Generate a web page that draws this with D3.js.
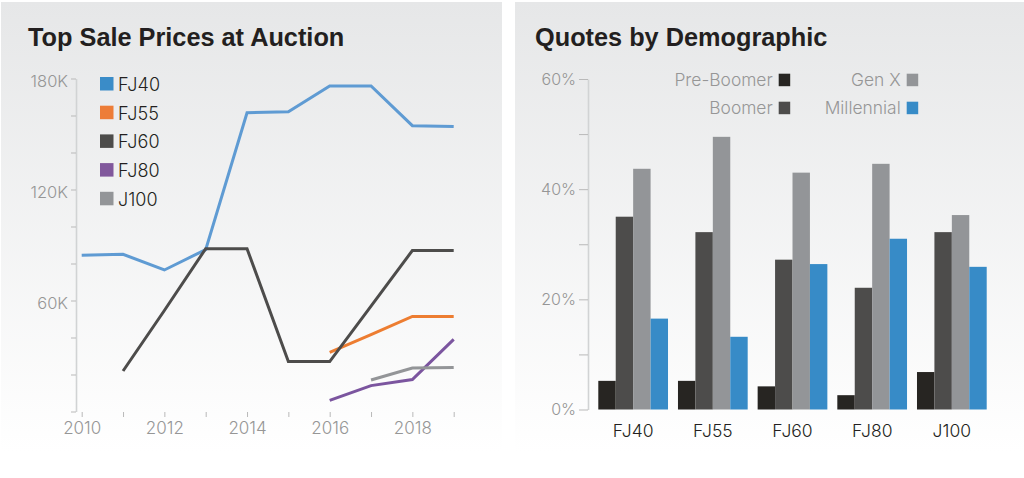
<!DOCTYPE html>
<html>
<head>
<meta charset="utf-8">
<script src="https://cdn.jsdelivr.net/npm/d3@7"></script>
<style>
body { margin:0; background:#fff; overflow:hidden; }
text { font-family:Inter, "Liberation Sans", sans-serif; font-weight:300; }
.title { font-family:"Liberation Sans", sans-serif; font-weight:700; font-size:25.3px; fill:#231f20; }
.domain { stroke:#d1d3d4; stroke-width:1.6; }
.tick line { stroke:#b9b9b9; }
.tick text { fill:#969696; font-size:16.5px; }
</style>
</head>
<body>
<svg id="chart" width="1024" height="478"></svg>
<script>
var years = [2010, 2011, 2012, 2013, 2014, 2015, 2016, 2017, 2018, 2019];
var fj40 = [84.5, 85, 76.5, 87.5, 161.5, 162, 176, 176, 154.5, 154];
var fj55 = [null, null, null, null, null, null, 32, 41.6, 51.4, 51.4];
var fj60 = [null, 21.9, 54.6, 88, 88, 27, 27, 57, 87, 87];
var fj80 = [null, null, null, null, null, null, 6, 14, 17.3, 39];
var j100 = [null, null, null, null, null, null, null, 17, 23.5, 23.8];
var lineNames = ["FJ40", "FJ55", "FJ60", "FJ80", "J100"];
var lineValues = [fj40, fj55, fj60, fj80, j100];
var lineColors = ["#5f9bd3", "#ed7d31", "#4d4c4b", "#7b559f", "#939598"];
var swatchColors = ["#3a8cc8", "#ed7d38", "#4d4c4b", "#81589c", "#939598"];

var models = ["FJ40", "FJ55", "FJ60", "FJ80", "J100"];
var groups = ["Pre-Boomer", "Boomer", "Gen X", "Millennial"];
var preBoomer = [5.2, 5.2, 4.2, 2.6, 6.8];
var boomer = [35, 32.2, 27.2, 22.1, 32.2];
var genX = [43.7, 49.5, 43, 44.6, 35.3];
var millennial = [16.5, 13.2, 26.4, 31, 25.9];
var groupValues = [preBoomer, boomer, genX, millennial];
var groupColors = ["#272522", "#4d4c4b", "#939598", "#378bc7"];

var svg = d3.select("#chart");
var defs = svg.append("defs");
var grad = defs.append("linearGradient").attr("id", "panel").attr("x1", 0).attr("x2", 0).attr("y1", 0).attr("y2", 1);
grad.append("stop").attr("offset", "0%").attr("stop-color", "#e6e7e8");
grad.append("stop").attr("offset", "100%").attr("stop-color", "#ffffff");

svg.append("rect").attr("x", 1).attr("y", 2).attr("width", 501).attr("height", 450).attr("fill", "url(#panel)");
svg.append("rect").attr("x", 515).attr("y", 2).attr("width", 509).attr("height", 450).attr("fill", "url(#panel)");

// left chart
var x = d3.scaleLinear().domain([2010, 2019]).range([81.7, 453.7]);
var y = d3.scaleLinear().domain([0, 180]).range([411.5, 78.5]);

svg.append("text").attr("class", "title").attr("x", 28).attr("y", 46).text("Top Sale Prices at Auction");

var yAxis = d3.axisLeft(y).tickValues(d3.range(0, 181, 20)).tickSize(5).tickSizeOuter(0)
    .tickFormat(function(d){ return d > 0 && d % 60 === 0 ? d + "K" : ""; });
var yg = svg.append("g").attr("transform", "translate(76,0)").call(yAxis);
yg.selectAll(".tick text").attr("dy", "0.5em");

var xAxis = d3.axisBottom(x).tickValues(years).tickSize(5).tickSizeOuter(0)
    .tickFormat(function(d){ return d % 2 === 0 ? d : ""; });
var xg = svg.append("g").attr("transform", "translate(0,412)").call(xAxis);
xg.select(".domain").remove();
xg.selectAll(".tick text").attr("y", 10).style("font-size", "17px");

var line = d3.line()
    .defined(function(d){ return d !== null; })
    .x(function(d, i){ return x(years[i]); })
    .y(function(d){ return y(d); });

// FJ40 sits under FJ60 where they cross
svg.selectAll(".series").data(lineValues).enter().append("path")
    .attr("class", "series")
    .attr("d", line)
    .attr("fill", "none")
    .attr("stroke-width", 3)
    .attr("stroke-linejoin", "miter")
    .attr("stroke", function(d, i){ return lineColors[i]; });

var legend = svg.selectAll(".legend").data(lineNames).enter().append("g")
    .attr("class", "legend")
    .attr("transform", function(d, i){ return "translate(100," + (77 + i * 28.7) + ")"; });
legend.append("rect").attr("width", 13.5).attr("height", 13.5)
    .attr("fill", function(d, i){ return swatchColors[i]; });
legend.append("text").attr("x", 18).attr("y", 14)
    .attr("font-size", 18).attr("fill", "#231f20").text(function(d){ return d; });

// right chart
svg.append("text").attr("class", "title").attr("x", 535).attr("y", 46).text("Quotes by Demographic");

var y2 = d3.scaleLinear().domain([0, 60]).range([409.5, 79]);
var x0 = d3.scaleBand().domain(models).range([598.3, 986.7]).paddingInner(0.125);
var x1 = d3.scaleBand().domain(groups).range([0, x0.bandwidth()]);

var yAxis2 = d3.axisLeft(y2).tickValues(d3.range(0, 61, 10)).tickSize(9).tickSizeOuter(0)
    .tickFormat(function(d){ return d % 20 === 0 ? d + "%" : ""; });
var yg2 = svg.append("g").attr("transform", "translate(588,0)").call(yAxis2);
yg2.selectAll(".tick text").style("font-size", "16px");

groups.forEach(function(g, gi){
    svg.append("g").selectAll("rect").data(groupValues[gi]).enter().append("rect")
        .attr("x", function(d, i){ return x0(models[i]) + x1(g); })
        .attr("width", x1.bandwidth())
        .attr("y", function(d){ return y2(d); })
        .attr("height", function(d){ return y2(0) - y2(d); })
        .attr("fill", groupColors[gi]);
});

var xAxis2 = d3.axisBottom(x0).tickSize(0);
var xg2 = svg.append("g").attr("transform", "translate(0,410)").call(xAxis2);
xg2.select(".domain").remove();
xg2.selectAll(".tick text").attr("y", 15).style("font-size", "17.5px").style("fill", "#231f20");

var legend2 = svg.selectAll(".legend2").data(groups).enter().append("g")
    .attr("class", "legend2")
    .attr("transform", function(d, i){
        return "translate(" + (i < 2 ? 778.7 : 906.7) + "," + (73.7 + (i % 2) * 28) + ")";
    });
legend2.append("rect").attr("width", 11.5).attr("height", 12.5)
    .attr("fill", function(d, i){ return groupColors[i]; });
legend2.append("text").attr("x", -6).attr("y", 12.5).attr("text-anchor", "end")
    .attr("font-size", 17.4).attr("fill", "#969696").text(function(d){ return d; });
</script>
</body>
</html>
